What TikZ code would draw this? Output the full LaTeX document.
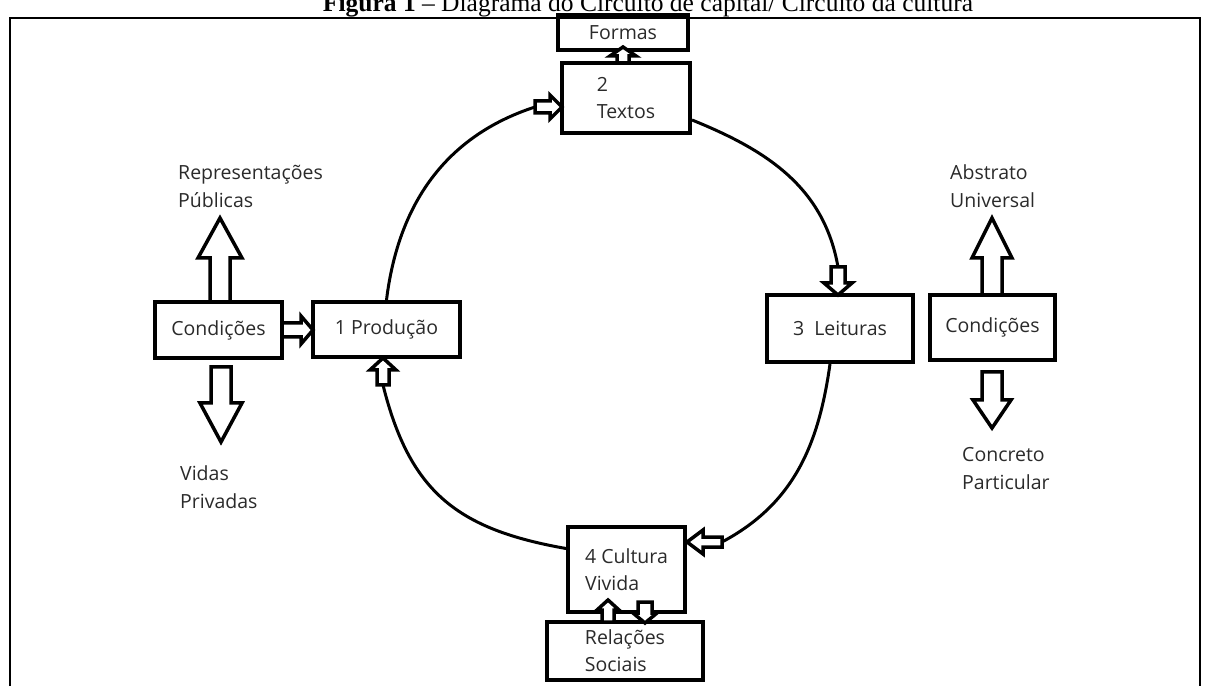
\documentclass[tikz,border=0pt]{standalone}
\usepackage{fontspec}
\setmainfont{Liberation Serif}
\newfontfamily\uifont{Open Sans}
\usetikzlibrary{calc}
\definecolor{txt}{HTML}{2A2A2A}
\tikzset{
  pics/barrow/.style args={#1/#2/#3/#4}{code={
    \draw[blockline] (0,-#4) -- ({#1-#2},-#4) -- ({#1-#2},-#3) -- (#1,0)
      -- ({#1-#2},#3) -- ({#1-#2},#4) -- (0,#4) -- cycle;}}
}
\begin{document}
\begin{tikzpicture}[x=1pt,y=1pt,
  box/.style={draw=black, line width=4pt, inner sep=0pt, align=left,
    font=\uifont\fontsize{19.5}{27}\selectfont, text=txt},
  lbl/.style={inner sep=0pt, align=left, anchor=west,
    font=\uifont\fontsize{19.5}{28}\selectfont, text=txt},
  circ/.style={line width=3pt},
  blockline/.style={draw=black, line width=3.5pt, fill=white, line join=miter},
  frameline/.style={line width=2pt},
  titlefont/.style={inner sep=0pt, anchor=base, font=\fontsize{25.5}{28}\selectfont}]
\useasboundingbox (0,0) rectangle (1210,686);
\clip (0,0) rectangle (1210,686);

% title and frame
\node[titlefont] (title) at (648,674) {\textbf{Figura 1} -- Diagrama do Circuito de capital/ Circuito da cultura};
\draw[frameline] (10,0) -- (10,668) -- (1200,668) -- (1200,0);

% boxes
\node[box, minimum width=130, minimum height=35] (form) at (623,653.5) {Formas};
\node[box, minimum width=128, minimum height=70] (tex) at (626,588) {2\\Textos};
\node[box, minimum width=147, minimum height=55] (prod) at (386.5,356.5) {1 Produção};
\node[box, minimum width=127, minimum height=56] (condl) at (218.5,356) {Condições};
\node[box, minimum width=146, minimum height=67] (leit) at (840,357.5) {3~~Leituras};
\node[box, minimum width=125, minimum height=65] (condr) at (992.5,358.5) {Condições};
\node[box, minimum width=117, minimum height=85] (cult) at (626.5,116.5) {4 Cultura\\Vivida};
\node[box, minimum width=156, minimum height=58] (rel) at (625,35) {Relações\\Sociais};

% free labels
\node[lbl] (rep) at (178,500) {Representações\\Públicas};
\node[lbl] (abs) at (950,500) {Abstrato\\Universal};
\node[lbl] (vid) at (180,199) {Vidas\\Privadas};
\node[lbl] (con) at (962,217) {Concreto\\Particular};

% arrow tails
\coordinate (aTt) at (535,579);
\coordinate (aFt) at (623,623);
\coordinate (aLt) at (838,419);
\coordinate (aCt) at (722,144);
\coordinate (aPt) at (383,301);
\coordinate (aCPt) at (282,356);
\coordinate (aUpt) at (608,64);
\coordinate (aDnt) at (645,84);
\coordinate (bLUt) at (220,384);
\coordinate (bLDt) at (221,319);
\coordinate (bRUt) at (992,391);
\coordinate (bRDt) at (992,314);

% circle arcs
\draw[circ] (prod.north) to[out=83,in=198] (aTt);
\draw[circ] ([yshift=-22pt]tex.east) to[out=-22,in=100] (aLt);
\draw[circ] ([xshift=-10pt]leit.south) to[out=-98,in=28] (aCt);
\draw[circ] ([yshift=21pt]cult.west) to[out=170,in=-76,looseness=1.15] (aPt);

% block arrows
\pic at (aTt) {barrow=27/12/12/6};
\pic[rotate=90] at (aFt) {barrow=16/9/13/6};
\pic[rotate=-90] at (aLt) {barrow=28/12/14/7};
\pic[rotate=180] at (aCt) {barrow=35/16/12/5};
\pic[rotate=90] at (aPt) {barrow=27/12/13/6};
\pic at (aCPt) {barrow=31/12/14/7};
\pic[rotate=90] at (aUpt) {barrow=22/10/11/6};
\pic[rotate=-90] at (aDnt) {barrow=21/10/12/7};
\pic[rotate=90] at (bLUt) {barrow=84/40/22/10};
\pic[rotate=-90] at (bLDt) {barrow=75/39/21/10};
\pic[rotate=90] at (bRUt) {barrow=77/40/20/10};
\pic[rotate=-90] at (bRDt) {barrow=56/28/19/10};
\end{tikzpicture}
\end{document}
